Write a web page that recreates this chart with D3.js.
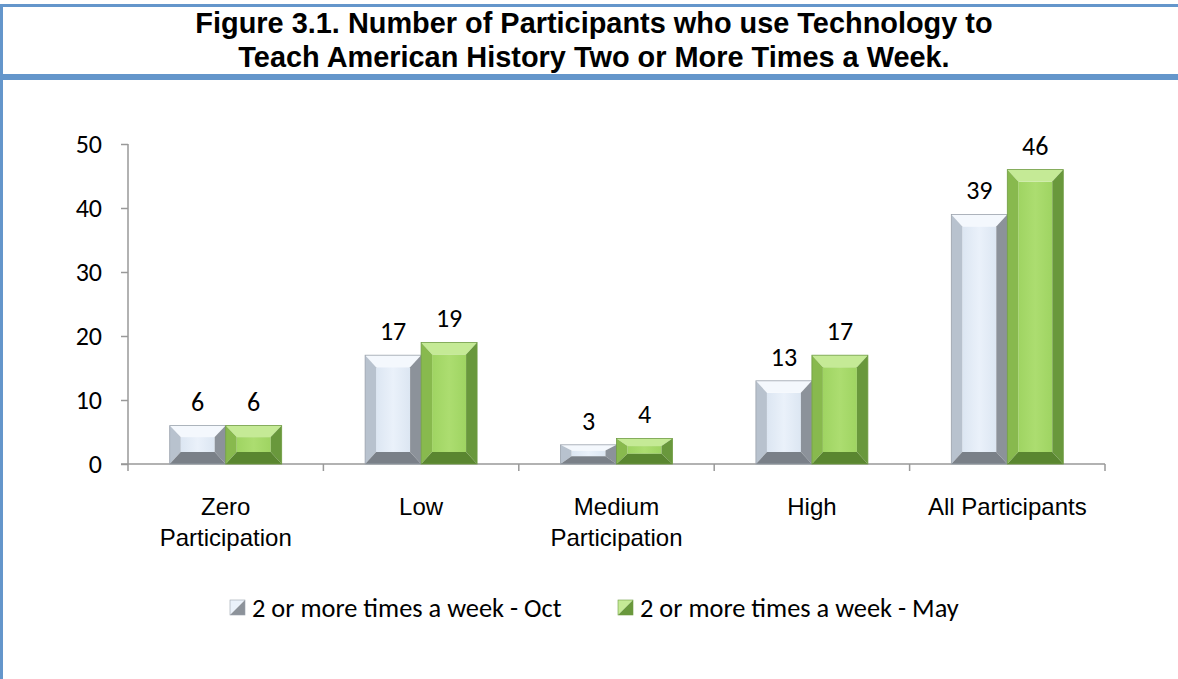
<!DOCTYPE html>
<html>
<head>
<meta charset="utf-8">
<script src="https://cdn.jsdelivr.net/npm/d3@7"></script>
<style>
  html, body { margin: 0; padding: 0; background: #fff; }
  svg { display: block; }
</style>
</head>
<body>
<div id="chart"></div>
<script>
// data
const categories = ["Zero Participation", "Low", "Medium Participation", "High", "All Participants"];
const categoryLines = [["Zero", "Participation"], ["Low"], ["Medium", "Participation"], ["High"], ["All Participants"]];
const seriesNames = ["2 or more times a week - Oct", "2 or more times a week - May"];
const octValues = [6, 17, 3, 13, 39];
const mayValues = [6, 19, 4, 17, 46];
const yTicks = [0, 10, 20, 30, 40, 50];
const titleLines = [
  "Figure 3.1. Number of Participants who use Technology to",
  "Teach American History Two or More Times a Week."
];

const W = 1178, H = 679;
const blue = "#6496cb";
const calibri = "Carlito, Calibri, Lato, 'Open Sans', sans-serif";
const arial = "'Liberation Sans', Arial, sans-serif";

// bevel palettes: face gradient, top, left, right, bottom, outline
const palettes = [
  { face0: "#dce6f2", face1: "#eaf1fa", top: "#f4f8fd", left: "#b8c2ce", right: "#8c929a", bottom: "#7a8088", stroke: "#9aa2ac" },
  { face0: "#9fd462", face1: "#acdd70", top: "#c5ea96", left: "#88b94e", right: "#69983c", bottom: "#5a8630", stroke: "#6f9c42" }
];

const svg = d3.select("#chart").append("svg")
    .attr("width", W)
    .attr("height", H);

svg.append("rect").attr("width", W).attr("height", H).attr("fill", "#fff");

// frame lines
svg.append("rect").attr("x", 0).attr("y", 4).attr("width", W).attr("height", 3).attr("fill", blue);
svg.append("rect").attr("x", 0).attr("y", 74).attr("width", W).attr("height", 6).attr("fill", blue);
svg.append("rect").attr("x", 0).attr("y", 4).attr("width", 3).attr("height", H - 4).attr("fill", blue);

// title
svg.selectAll("text.title")
  .data(titleLines)
  .enter().append("text")
    .attr("class", "title")
    .attr("x", 594)
    .attr("y", (d, i) => 33 + i * 34)
    .attr("text-anchor", "middle")
    .style("font-family", arial)
    .style("font-weight", "bold")
    .style("font-size", "28.9px")
    .attr("fill", "#000")
    .text(d => d);

// gradients for bar faces
const defs = svg.append("defs");
palettes.forEach((p, i) => {
  const g = defs.append("linearGradient").attr("id", "face" + i)
      .attr("x1", "0%").attr("x2", "100%").attr("y1", "0%").attr("y2", "0%");
  g.append("stop").attr("offset", "0%").attr("stop-color", p.face0);
  g.append("stop").attr("offset", "50%").attr("stop-color", p.face1);
  g.append("stop").attr("offset", "100%").attr("stop-color", p.face0);
});

// scales
const x0 = d3.scaleBand().domain(categories).range([128, 1105]).padding(0);
const x1 = d3.scaleBand().domain(seriesNames).range([0, x0.bandwidth()])
    .paddingInner(0).paddingOuter(0.745);
const y = d3.scaleLinear().domain([0, 50]).range([464, 144]);

// y axis
const yAxis = svg.append("g")
    .attr("transform", "translate(128,0)")
    .call(d3.axisLeft(y).tickValues(yTicks).tickSize(7).tickPadding(19));
yAxis.select(".domain").attr("stroke", "#999").attr("stroke-width", 1.5)
    .attr("d", "M0," + y(50) + "V" + y(0));
yAxis.selectAll(".tick line").attr("stroke", "#999").attr("stroke-width", 1.5);
yAxis.selectAll(".tick text")
    .style("font-family", calibri)
    .style("font-size", "26px")
    .attr("fill", "#000");

// x axis line + boundary ticks
const xg = svg.append("g");
xg.append("line")
    .attr("x1", 121).attr("x2", 1105)
    .attr("y1", y(0)).attr("y2", y(0))
    .attr("stroke", "#999").attr("stroke-width", 1.5);
const bounds = categories.map(c => x0(c)).concat([x0.range()[1]]);
xg.selectAll("line.xtick")
  .data(bounds)
  .enter().append("line")
    .attr("class", "xtick")
    .attr("x1", d => d).attr("x2", d => d)
    .attr("y1", y(0)).attr("y2", y(0) + 7)
    .attr("stroke", "#999").attr("stroke-width", 1.5);

// category labels
categories.forEach((c, i) => {
  const t = svg.append("text")
      .attr("x", x0(c) + x0.bandwidth() / 2)
      .attr("y", 515)
      .attr("text-anchor", "middle")
      .style("font-family", arial)
      .style("font-size", "24px")
      .attr("fill", "#000");
  categoryLines[i].forEach((line, j) => {
    t.append("tspan")
      .attr("x", x0(c) + x0.bandwidth() / 2)
      .attr("dy", j === 0 ? 0 : 31)
      .text(line);
  });
});

// bevelled bar
function bevelBar(g, xl, yt, w, h, p, fillId) {
  const xr = xl + w, yb = yt + h;
  const bx = Math.min(11, w / 4);
  const bt = Math.min(12, h * 0.3);
  const bb = Math.min(12, h * 0.4);
  const ix0 = xl + bx, ix1 = xr - bx, iy0 = yt + bt, iy1 = yb - bb;
  const poly = pts => pts.map(q => q.join(",")).join(" ");
  g.append("rect").attr("x", ix0).attr("y", iy0)
      .attr("width", ix1 - ix0).attr("height", Math.max(0, iy1 - iy0))
      .attr("fill", "url(#" + fillId + ")");
  g.append("polygon").attr("points", poly([[xl, yt], [xr, yt], [ix1, iy0], [ix0, iy0]])).attr("fill", p.top);
  g.append("polygon").attr("points", poly([[xl, yt], [ix0, iy0], [ix0, iy1], [xl, yb]])).attr("fill", p.left);
  g.append("polygon").attr("points", poly([[xr, yt], [xr, yb], [ix1, iy1], [ix1, iy0]])).attr("fill", p.right);
  g.append("polygon").attr("points", poly([[xl, yb], [ix0, iy1], [ix1, iy1], [xr, yb]])).attr("fill", p.bottom);
  g.append("rect").attr("x", xl).attr("y", yt).attr("width", w).attr("height", h)
      .attr("fill", "none").attr("stroke", p.stroke).attr("stroke-width", 0.8);
}

const seriesValues = [octValues, mayValues];
const bars = svg.append("g");
seriesNames.forEach((s, si) => {
  seriesValues[si].forEach((v, ci) => {
    const c = categories[ci];
    const xl = x0(c) + x1(s);
    const g = bars.append("g");
    bevelBar(g, xl, y(v), x1.bandwidth(), y(0) - y(v), palettes[si], "face" + si);
    svg.append("text")
      .attr("x", xl + x1.bandwidth() / 2)
      .attr("y", y(v) - 15)
      .attr("text-anchor", "middle")
      .style("font-family", calibri)
      .style("font-size", "26px")
      .attr("fill", "#000")
      .text(v);
  });
});

// legend
const legendX = [230, 618];
const legend = svg.append("g");
seriesNames.forEach((s, i) => {
  const p = palettes[i];
  const lx = legendX[i], ly = 600, sz = 15;
  const g = legend.append("g");
  g.append("polygon").attr("points", [[lx, ly], [lx + sz, ly], [lx, ly + sz]].map(q => q.join(",")).join(" ")).attr("fill", i === 0 ? p.face1 : p.top);
  g.append("polygon").attr("points", [[lx + sz, ly], [lx + sz, ly + sz], [lx, ly + sz]].map(q => q.join(",")).join(" ")).attr("fill", p.right);
  g.append("rect").attr("x", lx).attr("y", ly).attr("width", sz).attr("height", sz)
      .attr("fill", "none").attr("stroke", p.stroke).attr("stroke-width", 0.6);
  g.append("text")
      .attr("x", lx + 22)
      .attr("y", 617)
      .style("font-family", calibri)
      .style("font-size", "26.4px")
      .attr("fill", "#000")
      .text(s);
});
</script>
</body>
</html>
